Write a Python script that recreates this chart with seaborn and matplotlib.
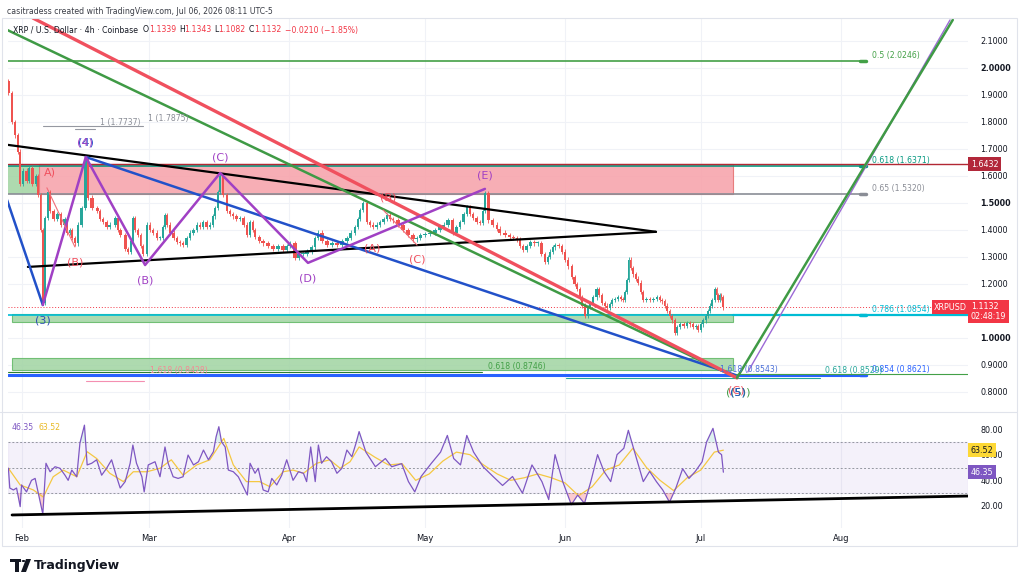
import numpy as np
import pandas as pd
import matplotlib
matplotlib.use("Agg")
import matplotlib.pyplot as plt
import matplotlib.transforms as mtransforms
from matplotlib.patches import Rectangle, Circle, Polygon
import seaborn as sns

# ---- data (x = days since 1 Feb 2026) ----
price_day = [-3.1, -2.2, -1.5, -0.9, -0.4, 0.2, 1.0, 1.6, 2.3, 3.0, 3.5, 4.1, 4.6, 5.1, 5.7, 6.2,
             7.0, 7.8, 8.6, 9.4, 9.9, 10.5, 11.0, 11.7, 12.4, 13.2, 14.0, 14.6, 15.5, 16.6, 17.3,
             17.9, 18.7, 19.4, 20.6, 21.2, 21.7, 22.8, 23.4, 24.0, 24.5, 25.0, 25.6, 26.2, 26.7,
             27.6, 28.3, 29.0, 29.8, 30.5, 31.1, 31.6, 32.1, 32.7, 33.5, 34.3, 35.0, 35.6, 36.4,
             37.1, 37.9, 38.7, 39.4, 40.0, 40.8, 41.5, 42.2, 42.7, 43.3, 43.8, 44.4, 45.3, 46.0,
             46.6, 47.4, 48.2, 49.0, 49.7, 50.3, 51.0, 51.5, 52.4, 53.3, 54.4, 55.5, 56.6, 57.7,
             58.5, 59.2, 60.3, 61.2, 62.1, 63.0, 64.0, 64.7, 65.4, 66.3, 67.4, 68.5, 69.6, 70.7,
             71.8, 72.7, 73.6, 74.2, 74.7, 75.4, 76.2, 76.9, 77.6, 78.4, 79.1, 79.9, 80.7, 81.4,
             82.0, 83.1, 84.2, 85.3, 86.4, 87.2, 88.0, 89.1, 90.2, 91.3, 92.4, 93.2, 94.1, 95.2,
             96.0, 96.8, 97.6, 98.3, 99.0, 99.7, 100.5, 101.2, 101.8, 102.3, 103.0, 104.0, 105.0,
             105.6, 106.7, 107.8, 108.6, 109.4, 110.0, 110.7, 111.5, 112.3, 113.2, 114.0, 114.8,
             115.6, 116.2, 116.7, 117.3, 117.8, 118.6, 119.3, 120.0, 120.7, 121.5, 122.1, 122.7,
             123.3, 123.8, 124.4, 125.1, 125.6, 126.2, 127.0, 127.6, 128.2, 128.8, 129.3, 129.9,
             130.4, 131.0, 131.7, 132.3, 132.8, 133.3, 133.7, 134.1, 134.5, 135.0, 135.6, 136.1,
             136.7, 137.2, 138.0, 138.8, 139.5, 140.3, 140.9, 141.4, 142.0, 142.5, 143.1, 143.6,
             144.3, 144.8, 145.4, 146.2, 147.0, 147.6, 148.3, 148.9, 149.4, 150.0, 150.5, 151.1,
             151.6, 152.1, 152.5, 153.1, 153.5, 153.8, 154.2, 154.5, 154.9]
price_close = [1.907, 1.80, 1.75, 1.69, 1.57, 1.62, 1.58, 1.63, 1.57, 1.60, 1.53, 1.40, 1.13, 1.445,
               1.54, 1.47, 1.44, 1.46, 1.42, 1.44, 1.39, 1.40, 1.37, 1.35, 1.42, 1.48, 1.66, 1.52,
               1.48, 1.47, 1.44, 1.43, 1.41, 1.42, 1.445, 1.40, 1.38, 1.33, 1.32, 1.36, 1.445, 1.40,
               1.38, 1.34, 1.31, 1.42, 1.40, 1.39, 1.37, 1.37, 1.41, 1.455, 1.42, 1.39, 1.37, 1.355,
               1.35, 1.345, 1.37, 1.39, 1.40, 1.42, 1.41, 1.43, 1.41, 1.42, 1.45, 1.48, 1.54, 1.60,
               1.53, 1.47, 1.46, 1.45, 1.44, 1.445, 1.42, 1.38, 1.43, 1.40, 1.375, 1.36, 1.35, 1.34,
               1.33, 1.34, 1.325, 1.34, 1.35, 1.295, 1.31, 1.31, 1.32, 1.335, 1.37, 1.39, 1.36,
               1.345, 1.35, 1.345, 1.36, 1.37, 1.39, 1.41, 1.44, 1.475, 1.50, 1.43, 1.42, 1.41, 1.42,
               1.43, 1.44, 1.455, 1.44, 1.435, 1.42, 1.40, 1.38, 1.365, 1.37, 1.38, 1.385, 1.39,
               1.40, 1.41, 1.42, 1.435, 1.39, 1.41, 1.43, 1.46, 1.485, 1.46, 1.445, 1.43, 1.425,
               1.47, 1.535, 1.435, 1.42, 1.405, 1.39, 1.38, 1.375, 1.37, 1.365, 1.34, 1.325, 1.34,
               1.355, 1.35, 1.35, 1.31, 1.28, 1.30, 1.32, 1.335, 1.345, 1.34, 1.32, 1.29, 1.265,
               1.225, 1.20, 1.18, 1.15, 1.12, 1.08, 1.115, 1.13, 1.15, 1.18, 1.16, 1.13, 1.12, 1.11,
               1.125, 1.14, 1.145, 1.15, 1.145, 1.14, 1.17, 1.215, 1.29, 1.26, 1.235, 1.22, 1.205,
               1.17, 1.14, 1.145, 1.14, 1.145, 1.15, 1.14, 1.135, 1.12, 1.10, 1.08, 1.065, 1.02,
               1.04, 1.05, 1.045, 1.055, 1.05, 1.04, 1.045, 1.03, 1.05, 1.065, 1.08, 1.10, 1.12,
               1.14, 1.18, 1.16, 1.14, 1.16, 1.15, 1.1132]

rsi_day = [-3.0, -2.7, -1.9, -1.2, -0.4, -0.1, 1.0, 2.1, 2.9, 3.6, 4.6, 5.3, 6.2, 7.3, 8.4, 9.5,
           10.2, 11.0, 12.1, 12.8, 13.8, 14.4, 15.4, 16.5, 17.6, 18.7, 19.8, 20.9, 21.7, 22.8,
           23.9, 24.5, 25.3, 26.5, 27.0, 27.9, 29.4, 30.5, 31.6, 32.3, 33.4, 34.5, 35.6, 36.7,
           37.9, 39.0, 40.1, 41.2, 42.3, 42.9, 43.5, 44.1, 44.9, 45.6, 46.7, 47.8, 48.9, 49.8,
           50.4, 51.5, 52.2, 53.3, 54.4, 55.2, 56.3, 57.4, 58.5, 59.2, 59.9, 61.1, 62.2, 62.9,
           63.8, 64.8, 65.5, 66.2, 67.3, 68.4, 69.6, 70.7, 71.8, 72.9, 73.8, 74.5,
           76.0, 78.1, 80.3, 81.7, 83.9, 85.4, 86.8, 88.2, 90.4, 92.5, 94.0,
           95.4, 96.9, 98.3, 99.8, 101.9, 104.1, 106.2, 108.4, 110.6, 112.7, 114.9, 116.4, 117.8,
           119.5, 121.4, 122.8, 124.3, 125.7, 127.2, 128.6, 130.1, 131.5, 133.0, 134.0, 135.8,
           137.3, 138.7, 140.2, 141.6, 143.1, 144.5, 146.0, 147.4, 148.8, 150.3, 151.3, 152.7,
           153.9, 154.6, 155.0]
rsi_val = [49.4, 34, 32.5, 34, 19.5, 36.4, 31, 40, 41.5, 30, 13.7, 53.3, 46.7, 50.6, 49.4, 44,
           40, 48, 42.8, 69, 83, 52, 53.3, 56, 44, 49.4, 56, 42.8, 34, 39,
           53.3, 67.5, 53.3, 42.8, 31, 52, 54.5, 42.8, 66, 53.3, 42.8, 41.5, 42.8, 59.7,
           52, 54.5, 63.6, 56, 62.3, 74, 81.8, 70, 66, 48, 46.7, 42.8, 35, 28.6,
           53.3, 45.5, 49.4, 32.5, 31, 41.5, 36.4, 44, 56, 48, 40, 46.7, 45.5, 39,
           66, 39, 67.5, 53.3, 58.4, 54.5, 45.5, 49.4, 63.6, 58.4, 68.8, 78,
           62, 50.6, 57, 50.6, 53, 39, 31, 43, 53, 62, 75,
           57, 52, 75, 62, 50.6, 43, 36, 43, 30, 52, 39, 25, 60,
           39, 21, 28.5, 22, 39, 60, 47, 39, 60, 65, 79, 57,
           39, 47, 39, 32.5, 23, 34, 49, 41.5, 47, 54.5, 70, 80.5,
           62, 60, 46.35]

rsi_ma_day = [-3.0, -0.4, 2.5, 4.7, 6.9, 9.1, 12.1, 14.4, 16.5, 19.4, 22.4, 24.6, 27.6, 30.5, 33.0,
              35.6, 38.6, 41.5, 44.6, 46.7, 49.6, 52.5, 54.8, 57.7, 59.9, 62.2, 65.1, 68.0, 70.3,
              72.5, 74.5, 78, 81, 84, 87, 90, 93, 96, 99, 102, 105, 108, 111, 114, 117,
              120, 123, 126, 129, 132, 135, 138, 141, 144, 147, 150, 153, 155]
rsi_ma_val = [49.4, 36.4, 32.5, 27, 42.8, 48, 42.8, 62.3, 57, 45.5, 39, 46.7, 46.7, 49.4, 56,
              44, 52, 56, 72.7, 52, 39, 39, 35, 46.7, 48, 45.5, 53.3, 56, 49.4,
              54.5, 66, 58, 52, 53, 40, 45, 55, 62, 60, 52, 45, 40, 42, 45, 42,
              38, 28, 35, 48, 52, 65, 50, 40, 32, 42, 48, 62, 63.52]

month_ticks = [0, 28, 59, 89, 120, 150, 181]
month_labels = ["Feb", "Mar", "Apr", "May", "Jun", "Jul", "Aug"]
price_ticks = [0.8, 0.9, 1.0, 1.2, 1.3, 1.4, 1.5, 1.6, 1.7, 1.8, 1.9, 2.0, 2.1]
rsi_ticks = [20, 40, 60, 80]

# fib levels on the right
fib_levels = [2.0246, 1.6371, 1.5320, 1.0854, 0.8621]
fib_names = ["0.5 (2.0246)", "0.618 (1.6371)", "0.65 (1.5320)", "0.786 (1.0854)", "0.854 (0.8621)"]
fib_colors = ["#43a047", "#089981", "#8a8d96", "#00bcd4", "#2962ff"]

# trend lines (day pairs, price pairs)
black_upper = ([-3.1, 140.1], [1.715, 1.393])
black_lower = ([1.3, 140.1], [1.263, 1.393])
blue_left = ([-3.3, 4.6], [1.511, 1.122])
blue_down = ([14.1, 157.6], [1.670, 0.863])
red_down = ([2.4, 158.0], [2.185, 0.852])
green_down = ([-3.3, 158.0], [2.141, 0.852])
green_up = ([158.0, 205.7], [0.852, 2.178])
purple_up = ([160.4, 205.1], [0.874, 2.178])
wave_day = [4.6, 14.1, 27.2, 43.8, 63.2, 102.3]
wave_price = [1.122, 1.670, 1.270, 1.611, 1.278, 1.552]
red_sub1 = ([5.5, 11.7], [1.556, 1.337])
red_sub2 = ([79.8, 87.3], [1.474, 1.344])

last_price = 1.1132
alert_price = 1.6432

C_UP, C_DN = "#26a69a", "#ef5350"
RED, GREEN, BLUE, PURPLE = "#f0505e", "#3f9a45", "#2251c9", "#a040c4"

sns.set_theme(style="white")
plt.rcParams["font.family"] = ["DejaVu Sans"]

fig = plt.figure(figsize=(10.24, 5.87), dpi=100)
ax = fig.add_axes([8 / 1024, 1 - 410 / 587, 960 / 1024, 392 / 587])
axr = fig.add_axes([8 / 1024, 1 - 528 / 587, 960 / 1024, 114 / 587], sharex=ax)
X0, X1 = -3.094, 209.06

for a in (ax, axr):
    for s in a.spines.values():
        s.set_visible(False)
    a.set_xlim(X0, X1)
    a.tick_params(length=0, labelsize=6, colors="#131722")
    for m in month_ticks:
        a.axvline(m, color="#f0f2f7", lw=0.8, zorder=0)

ax.set_ylim(0.733, 2.185)
for p in price_ticks:
    ax.axhline(p, color="#f0f2f7", lw=0.8, zorder=0)

# zones
ax.add_patch(Rectangle((3.76, 1.532), 157.1 - 3.76, 1.645 - 1.532, fc="#f7a5ad", ec="#e57373",
                       lw=0.8, alpha=0.9, zorder=1))
ax.add_patch(Rectangle((X0, 1.532), 3.76 - X0, 1.637 - 1.532, fc="#a5d6a7", ec="none", alpha=0.9, zorder=1))
ax.add_patch(Rectangle((-2.2, 1.058), 157.1 + 2.2, 1.089 - 1.058, fc="#a5d6a7", ec="#66bb6a",
                       lw=0.8, alpha=0.9, zorder=1))
ax.add_patch(Rectangle((-2.2, 0.880), 157.1 + 2.2, 0.926 - 0.880, fc="#a5d6a7", ec="#66bb6a",
                       lw=0.8, alpha=0.9, zorder=1))

# fib lines
for lv, nm, c in zip(fib_levels, fib_names, fib_colors):
    lw = 2.2 if lv in (0.8621,) else 1.2
    ax.plot([X0, 186.5], [lv, lv], color=c, lw=lw, zorder=2)
    ax.plot([185.2, 186.5], [lv, lv], color=c, lw=2.5, zorder=2)
    ax.text(187.8, lv + 0.004, nm, color=c, fontsize=5.6, va="bottom", ha="left", zorder=6)
ax.plot([157.1, X1], [1.0854, 1.0854], color="#00bcd4", lw=1.6, zorder=2)
ax.plot([157.0, X1], [0.866, 0.866], color="#43a047", lw=0.8, zorder=2)
ax.plot([X0, X1], [alert_price, alert_price], color="#b22833", lw=1.0, zorder=2)
ax.plot([X0, X1], [last_price, last_price], color="#f23645", lw=0.7, ls=(0, (1, 2)), zorder=2)
ax.plot([X0, 101.7], [0.8746, 0.8746], color="#2e7d32", lw=0.8, zorder=2)
ax.text(103.0, 0.8746 + 0.004, "0.618 (0.8746)", color="#43a047", fontsize=5.6, va="bottom", zorder=6)
ax.plot([14.1, 27.0], [0.841, 0.841], color="#f48fb1", lw=0.8, zorder=2)
ax.text(28.3, 0.8428 + 0.02, "1.618 (0.8428)", color="#f28b96", fontsize=5.6, va="bottom", zorder=6)
ax.plot([120.2, 176.4], [0.852, 0.852], color="#26a69a", lw=0.8, zorder=2)
ax.text(177.5, 0.8529 + 0.01, "0.618 (0.8529)", color="#26a69a", fontsize=5.6, va="bottom", zorder=6)
ax.text(154.3, 0.8543 + 0.012, "1.618 (0.8543)", color="#4a6fd8", fontsize=5.6, va="bottom", zorder=6)
ax.plot([4.6, 26.7], [1.785, 1.785], color="#9598a1", lw=0.8, zorder=2)
ax.plot([11.7, 16.1], [1.775, 1.775], color="#9598a1", lw=0.8, zorder=2)
ax.text(17.2, 1.790, "1 (1.7737)", color="#8a8d96", fontsize=5.6, zorder=6)
ax.text(27.8, 1.802, "1 (1.7875)", color="#8a8d96", fontsize=5.6, zorder=6)

# candles
opens = [1.95] + price_close[:-1]
df = pd.DataFrame({"day": price_day, "open": opens, "close": price_close})
df["width"] = np.gradient(df["day"]) * 0.75
up = df["close"] >= df["open"]
lo = df[["open", "close"]].min(axis=1)
hi = df[["open", "close"]].max(axis=1)
body = (hi - lo).clip(lower=0.004)
cols = np.where(up, C_UP, C_DN)
ax.vlines(df["day"], lo - 0.008, hi + 0.008, colors=cols, lw=0.6, zorder=3)
ax.bar(df["day"], body, bottom=lo, width=df["width"], color=cols, zorder=3, lw=0)

# trend lines
ax.plot(*black_upper, color="black", lw=1.6, zorder=4)
ax.plot(*black_lower, color="black", lw=1.6, zorder=4)
ax.plot(*blue_left, color=BLUE, lw=1.8, zorder=4)
ax.plot(*blue_down, color=BLUE, lw=1.8, zorder=4)
ax.plot(*green_down, color=GREEN, lw=1.8, zorder=4)
ax.plot(*red_down, color=RED, lw=2.4, zorder=4)
ax.plot(*purple_up, color="#9c6ad6", lw=1.0, zorder=4)
ax.plot(*green_up, color=GREEN, lw=1.8, zorder=4)
ax.plot(wave_day, wave_price, color=PURPLE, lw=1.8, zorder=5)
ax.plot(*red_sub1, color="#f06d78", lw=0.8, zorder=5)
ax.plot(*red_sub2, color="#f06d78", lw=0.8, zorder=5)

# wave labels
labels = [("(3)", 4.6, 1.063, "#2f4fb5"), ("(4)", 14.1, 1.722, "#2251c9"), ("(4)", 13.8, 1.722, PURPLE),
          ("A)", 6.2, 1.611, "#f0505e"), ("(B)", 11.7, 1.278, "#f0505e"), ("(B)", 27.2, 1.211, PURPLE),
          ("(C)", 43.8, 1.667, PURPLE), ("(D)", 63.2, 1.219, PURPLE), ("(E)", 102.3, 1.60, PURPLE),
          ("(B)", 80.9, 1.519, "#f0505e"), ("(A)", 77.3, 1.333, "#f0505e"), ("(C)", 87.3, 1.289, "#f0505e"),
          ("(C)", 157.8, 0.807, "#f0505e"), ("((5))", 158.2, 0.796, GREEN), ("(5)", 158.2, 0.796, "#2251c9")]
for t, d, p, c in labels:
    ax.text(d, p, t, color=c, fontsize=8, ha="center", va="center", zorder=7)

# right price axis
ax.yaxis.tick_right()
ax.set_yticks(price_ticks)
ax.set_yticklabels([f"{p:.4f}" for p in price_ticks], fontsize=5.8)
for lbl, p in zip(ax.get_yticklabels(), price_ticks):
    if p in (1.0, 1.5, 2.0):
        lbl.set_fontweight("bold")
ax.tick_params(axis="y", pad=9)
ax.tick_params(axis="x", labelbottom=False)

tr = mtransforms.blended_transform_factory(ax.transAxes, ax.transData)
ax.text(1.003, alert_price, "1.6432", transform=tr, color="white", fontsize=5.8, va="center",
        bbox=dict(boxstyle="square,pad=0.3", fc="#b2283a", ec="none"), clip_on=False, zorder=10)
ax.text(1.003, 1.097, "1.1132\n02:48:19", transform=tr, color="white", fontsize=5.8, va="center",
        linespacing=1.1, bbox=dict(boxstyle="square,pad=0.3", fc="#f23645", ec="none"), clip_on=False, zorder=10)
ax.text(0.999, last_price, "XRPUSD", transform=tr, color="white", fontsize=5.8, va="center", ha="right",
        bbox=dict(boxstyle="square,pad=0.3", fc="#f23645", ec="none"), clip_on=False, zorder=10)

# RSI pane
axr.set_ylim(2.85, 91.7)
axr.axhspan(30, 70, color="#7e57c2", alpha=0.08, zorder=0)
for lv in (70, 50, 30):
    axr.axhline(lv, color="#9598a1", lw=0.7, ls=(0, (2, 2)), zorder=1)
rsi_df = pd.DataFrame({"day": rsi_day, "rsi": rsi_val})
ma_df = pd.DataFrame({"day": rsi_ma_day, "ma": rsi_ma_val})
rv = np.array(rsi_val)
axr.fill_between(rsi_day, rv, 30, where=rv < 30, interpolate=True, color="#f23645", alpha=0.25, lw=0)
axr.fill_between(rsi_day, rv, 70, where=rv > 70, interpolate=True, color="#26a69a", alpha=0.15, lw=0)
sns.lineplot(data=ma_df, x="day", y="ma", ax=axr, color="#f5c842", lw=0.9, zorder=3)
sns.lineplot(data=rsi_df, x="day", y="rsi", ax=axr, color="#7e57c2", lw=0.9, zorder=4)
axr.plot([-2.2, 209.5], [13.0, 27.8], color="black", lw=2.0, zorder=5)
axr.set_xlabel("")
axr.set_ylabel("")
ax.set_xlabel("")
ax.set_ylabel("")
axr.yaxis.tick_right()
axr.set_yticks(rsi_ticks)
axr.set_yticklabels([f"{v:.2f}" for v in rsi_ticks], fontsize=5.8)
axr.tick_params(axis="y", pad=9)
axr.set_xticks(month_ticks)
axr.set_xticklabels(month_labels, fontsize=6)
axr.tick_params(axis="x", pad=4)
trr = mtransforms.blended_transform_factory(axr.transAxes, axr.transData)
axr.text(1.003, 63.52, "63.52", transform=trr, color="#131722", fontsize=5.8, va="center",
         bbox=dict(boxstyle="square,pad=0.3", fc="#fdd835", ec="none"), clip_on=False, zorder=10)
axr.text(1.003, 46.35, "46.35", transform=trr, color="white", fontsize=5.8, va="center",
         bbox=dict(boxstyle="square,pad=0.3", fc="#7e57c2", ec="none"), clip_on=False, zorder=10)
axr.text(0.004, 0.86, "46.35", transform=axr.transAxes, color="#7e57c2", fontsize=5.6)
axr.text(0.032, 0.86, "63.52", transform=axr.transAxes, color="#e8b923", fontsize=5.6)

# frame and separators
fig.add_artist(plt.Line2D([0, 1017 / 1024], [1 - 412 / 587] * 2, color="#e0e3eb", lw=0.8))
fig.add_artist(Rectangle((2 / 1024, 1 - 546 / 587), 1015 / 1024, 528 / 587, fill=False,
                         ec="#e0e3eb", lw=0.8, transform=fig.transFigure))

# header
fig.text(7 / 1024, 1 - 11 / 587, "casitradess created with TradingView.com, Jul 06, 2026 08:11 UTC-5",
         fontsize=5.6, color="#3a3d46", va="center")
hy = 1 - 30 / 587
fig.text(13 / 1024, hy, "XRP / U.S. Dollar · 4h · Coinbase", fontsize=5.6, color="#131722", va="center")
for xx, t, c in [(143, "O", "#131722"), (149, "1.1339", "#f23645"), (179, "H", "#131722"),
                 (184, "1.1343", "#f23645"), (214, "L", "#131722"), (218, "1.1082", "#f23645"),
                 (249, "C", "#131722"), (254, "1.1132", "#f23645"), (285, "−0.0210 (−1.85%)", "#f23645")]:
    fig.text(xx / 1024, hy, t, fontsize=5.6, color=c, va="center")

# TradingView logo
fig.add_artist(Rectangle((10 / 1024, 1 - 562 / 587), 11 / 1024, 3 / 587, fc="#131722", ec="none",
                         transform=fig.transFigure))
fig.add_artist(Rectangle((15 / 1024, 1 - 572 / 587), 3.5 / 1024, 10 / 587, fc="#131722", ec="none",
                         transform=fig.transFigure))
fig.add_artist(Circle((23.5 / 1024, 1 - 561 / 587), 1.8 / 1024, fc="#131722", ec="none",
                      transform=fig.transFigure))
fig.add_artist(Polygon([(26 / 1024, 1 - 559 / 587), (31 / 1024, 1 - 559 / 587), (26 / 1024, 1 - 572 / 587),
                        (21 / 1024, 1 - 572 / 587)], closed=True, fc="#131722", ec="none",
                       transform=fig.transFigure))
fig.text(34 / 1024, 1 - 566 / 587, "TradingView", fontsize=9, fontweight="bold", color="#131722", va="center")

fig.savefig("out.png", dpi=100, facecolor="white")
